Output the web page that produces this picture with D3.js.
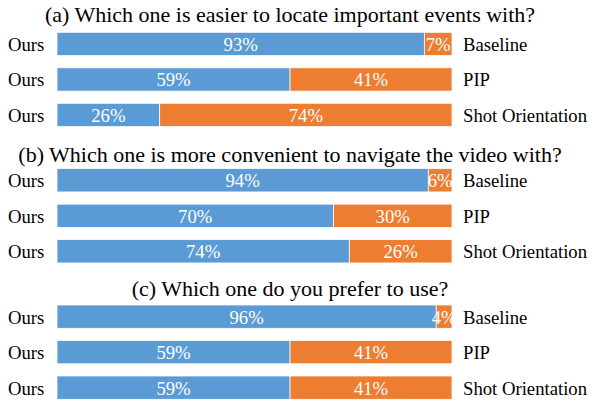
<!DOCTYPE html>
<html>
<head>
<meta charset="utf-8">
<script src="https://cdn.jsdelivr.net/npm/d3@7"></script>
</head>
<body style="margin:0; background:#fff">
<div id="chart"></div>
<script>
// Data
// =================================
const questions = [
    "(a) Which one is easier to locate important events with?",
    "(b) Which one is more convenient to navigate the video with?",
    "(c) Which one do you prefer to use?"
];
const ours = "Ours";
const baselines = ["Baseline", "PIP", "Shot Orientation"];
// share of "Ours" per question, per baseline (%)
const oursShare = [
    [93, 59, 26],
    [94, 70, 74],
    [96, 59, 59]
];
const otherShare = [
    [7, 41, 74],
    [6, 30, 26],
    [4, 41, 41]
];

// Layout
// =================================
const svgWidth = 592;
const svgHeight = 400;
const titleY = [22, 162, 296];
const serifFont = "'Times New Roman', 'Liberation Serif', Tinos, serif";
const blue = "#5B9BD5";
const orange = "#ED7D31";

const svg = d3.select("#chart")
    .append("svg")
    .attr("width", svgWidth)
    .attr("height", svgHeight)
    .style("font-family", serifFont);

const xScale = d3.scaleLinear()
    .domain([0, 100])
    .range([57, 452]);

// top of each question's first bar
const groupScale = d3.scalePoint()
    .domain(d3.range(questions.length))
    .range([32.3, 305]);

// rows inside one question
const rowScale = d3.scaleBand()
    .domain(baselines)
    .range([0, 94.3])
    .paddingInner(0.344)
    .paddingOuter(0);

questions.forEach(function (q, qi) {
    svg.append("text")
        .attr("x", 290)
        .attr("y", titleY[qi])
        .attr("text-anchor", "middle")
        .style("font-family", serifFont)
        .style("font-size", "22px")
        .attr("fill", "#000")
        .text(q);

    const g = svg.append("g")
        .attr("transform", `translate(0, ${groupScale(qi)})`);

    const rows = baselines.map((b, i) => ({
        name: b,
        ours: oursShare[qi][i],
        other: otherShare[qi][i]
    }));

    const row = g.selectAll("g.row")
        .data(rows)
        .enter()
        .append("g")
        .attr("class", "row")
        .attr("transform", d => `translate(0, ${rowScale(d.name)})`);

    const bh = rowScale.bandwidth();

    // blue part
    row.append("rect")
        .attr("x", xScale(0))
        .attr("y", 0)
        .attr("width", d => xScale(d.ours) - xScale(0))
        .attr("height", bh)
        .attr("fill", blue)
        .attr("stroke", "#fff")
        .attr("stroke-width", 0.75);

    // orange part
    row.append("rect")
        .attr("x", d => xScale(d.ours))
        .attr("y", 0)
        .attr("width", d => xScale(d.ours + d.other) - xScale(d.ours))
        .attr("height", bh)
        .attr("fill", orange)
        .attr("stroke", "#fff")
        .attr("stroke-width", 0.75);

    // value labels
    row.append("text")
        .attr("x", d => (xScale(0) + xScale(d.ours)) / 2)
        .attr("y", bh / 2 + 7)
        .attr("text-anchor", "middle")
        .style("font-family", serifFont)
        .style("font-size", "18.7px")
        .attr("fill", "#fff")
        .text(d => d.ours + "%");

    row.append("text")
        .attr("x", d => (xScale(d.ours) + xScale(d.ours + d.other)) / 2)
        .attr("y", bh / 2 + 7)
        .attr("text-anchor", "middle")
        .style("font-family", serifFont)
        .style("font-size", "18.7px")
        .attr("fill", "#fff")
        .text(d => d.other + "%");

    // side labels
    row.append("text")
        .attr("x", 8)
        .attr("y", bh / 2 + 7)
        .style("font-family", serifFont)
        .style("font-size", "18.7px")
        .attr("fill", "#000")
        .text(ours);

    row.append("text")
        .attr("x", 463)
        .attr("y", bh / 2 + 7)
        .style("font-family", serifFont)
        .style("font-size", "18.7px")
        .attr("fill", "#000")
        .text(d => d.name);
});
</script>
</body>
</html>
